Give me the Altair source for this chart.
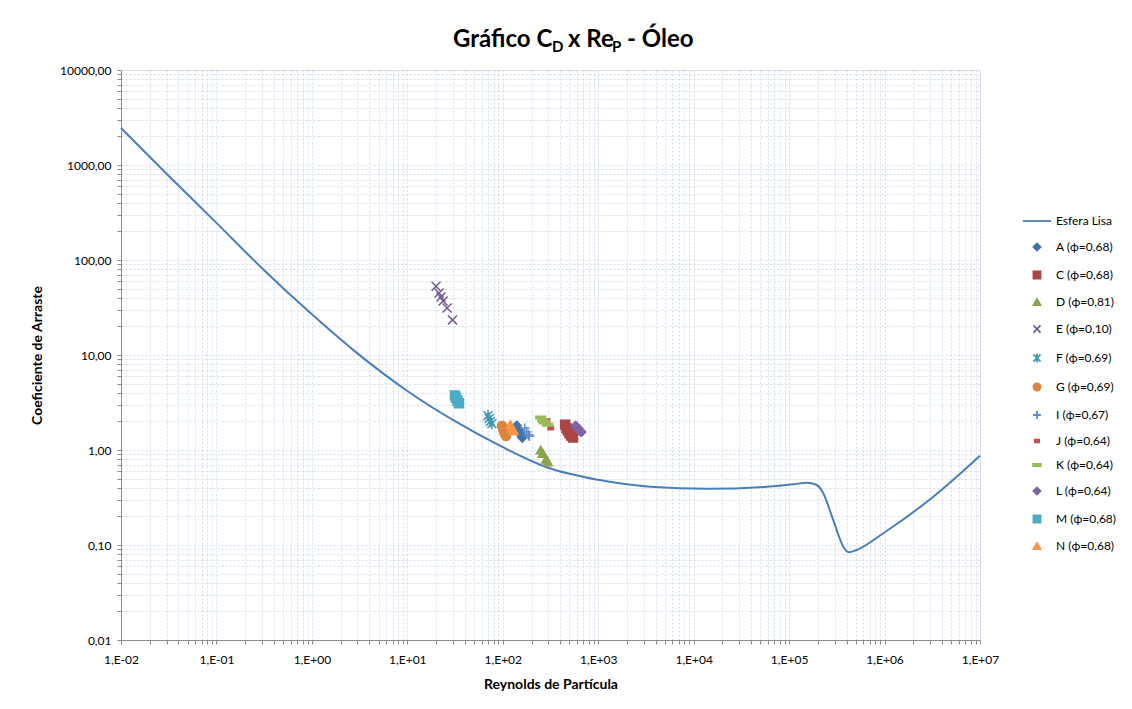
import altair as alt
import pandas as pd

# ---- Esfera Lisa curve ----
curve_re = [0.01, 0.03, 0.1, 0.3, 1.0, 3.0, 10.0, 30.0, 100, 300, 1000, 3490,
            13700, 58200, 110000, 153000, 195000, 228000, 290000, 370000, 418000,
            510000, 970000, 3240000, 10000000]
curve_cd = [2450, 810, 246, 82, 26.8, 10.4, 4.18, 2.07, 1.07, 0.65, 0.485, 0.41,
            0.39, 0.41, 0.435, 0.453, 0.428, 0.35, 0.183, 0.096, 0.0838,
            0.0886, 0.133, 0.322, 0.87]

# ---- experimental series ----
series_names = ["A (ϕ=0,68)", "C (ϕ=0,68)", "D (ϕ=0,81)", "E (ϕ=0,10)", "F (ϕ=0,69)",
                "G (ϕ=0,69)", "I (ϕ=0,67)", "J (ϕ=0,64)", "K (ϕ=0,64)", "L (ϕ=0,64)",
                "M (ϕ=0,68)", "N (ϕ=0,68)"]
A_re = [140, 148, 155, 160]
A_cd = [1.8, 1.6, 1.45, 1.35]
C_re = [450, 465, 480, 500, 520, 545]
C_cd = [1.85, 1.7, 1.6, 1.5, 1.42, 1.35]
D_re = [250, 262, 285, 295]
D_cd = [1.0, 0.92, 0.8, 0.75]
E_re = [20.0, 21.5, 22.5, 23.7, 26.1, 29.7]
E_cd = [53, 45, 40.8, 37, 31.2, 23.4]
F_re = [70, 72, 74, 77]
F_cd = [2.3, 2.15, 2.0, 1.9]
G_re = [98, 101, 104, 108]
G_cd = [1.8, 1.65, 1.5, 1.4]
I_re = [170, 178, 185, 190]
I_cd = [1.7, 1.55, 1.45, 1.4]
J_re = [290, 318]
J_cd = [2.05, 1.7]
K_re = [250, 262, 272, 295]
K_cd = [2.2, 2.05, 1.95, 1.85]
L_re = [580, 610, 640, 665]
L_cd = [1.8, 1.7, 1.6, 1.55]
M_re = [31.5, 32.3, 33.5, 34.8]
M_cd = [3.75, 3.55, 3.3, 3.1]
N_re = [120, 125, 130]
N_cd = [1.85, 1.7, 1.6]

series_re = [A_re, C_re, D_re, E_re, F_re, G_re, I_re, J_re, K_re, L_re, M_re, N_re]
series_cd = [A_cd, C_cd, D_cd, E_cd, F_cd, G_cd, I_cd, J_cd, K_cd, L_cd, M_cd, N_cd]

line_name = "Esfera Lisa"
line_color = "#4A7EBB"
series_colors = ["#4572A7", "#AA4643", "#89A54E", "#71588F", "#4198AF", "#DB843D",
                 "#5B8BCB", "#C8504D", "#9BBB59", "#8064A2", "#4BACC6", "#F79646"]
X_PATH = "M-1,-1L1,1M-1,1L1,-1"
AST_PATH = "M-1,-1L1,1M-1,1L1,-1M0,-1.3L0,1.3"
PLUS_PATH = "M-1.1,0L1.1,0M0,-1.1L0,1.1"
J_PATH = "M-0.6,-0.35L0.6,-0.35L0.6,0.35L-0.6,0.35Z"
K_PATH = "M-1.1,-0.3L1.1,-0.3L1.1,0.3L-1.1,0.3Z"
LINE_PATH = "M-4,0L4,0"
series_shapes = ["diamond", "square", "triangle-up", X_PATH, AST_PATH, "circle",
                 PLUS_PATH, J_PATH, K_PATH, "diamond", "square", "triangle-up"]
filled_flags = [True, True, True, False, False, True, False, True, True, True, True, True]

rows = []
for name, res, cds in zip(series_names, series_re, series_cd):
    for r, c in zip(res, cds):
        rows.append({"serie": name, "Re": r, "Cd": c})
df = pd.DataFrame(rows)
curve_df = pd.DataFrame({"Re": curve_re, "Cd": curve_cd})

domain = [line_name] + series_names
stroke_range = [line_color] + series_colors
fill_range = ["transparent"] + [c if f else "transparent" for c, f in zip(series_colors, filled_flags)]
shape_range = [LINE_PATH] + series_shapes

# ---- axes ----
x_ticks = []
for e in range(-2, 7):
    for m in range(1, 10):
        x_ticks.append(float(f"{m}e{e}"))
x_ticks.append(1e7)
y_ticks = []
for e in range(-2, 4):
    for m in range(1, 10):
        y_ticks.append(float(f"{m}e{e}"))
y_ticks.append(1e4)

is_dec = "abs(log(datum.value)/LN10 - round(log(datum.value)/LN10)) < 0.001"
x_label = ("(" + is_dec + ") ? ('1,E' + (round(log(datum.value)/LN10) < 0 ? '-' : '+') + "
           "(abs(round(log(datum.value)/LN10)) < 10 ? '0' : '') + abs(round(log(datum.value)/LN10))) : ''")
y_label = "(" + is_dec + ") ? replace(format(datum.value, '.2f'), '.', ',') : ''"

FONT = "Lato"
GRID = "#D3DDEC"
AXC = "#8C8C8C"

xaxis = alt.Axis(values=x_ticks, labelExpr=x_label, grid=True, gridColor=GRID, gridDash=[2, 2],
                 domainColor=AXC, tickColor=AXC, tickSize=4, labelFont=FONT, labelFontSize=12,
                 labelColor="#000000", labelPadding=10, labelOverlap=False, labelFlush=False,
                 title="Reynolds de Partícula", titleFont=FONT, titleFontSize=14,
                 titleFontWeight="bold", titleColor="#000000", titlePadding=12)
yaxis = alt.Axis(values=y_ticks, labelExpr=y_label, grid=True, gridColor=GRID, gridDash=[2, 2],
                 domainColor=AXC, tickColor=AXC, tickSize=4, labelFont=FONT, labelFontSize=12,
                 labelColor="#000000", labelPadding=6, labelOverlap=False, labelFlush=False,
                 title="Coeficiente de Arraste", titleFont=FONT, titleFontSize=14,
                 titleFontWeight="bold", titleColor="#000000", titlePadding=15)
xscale = alt.Scale(type="log", domain=[0.01, 1e7], nice=False)
yscale = alt.Scale(type="log", domain=[0.01, 1e4], nice=False)

legend = alt.Legend(title=None, orient="none", legendX=910, legendY=145, labelFont=FONT,
                    labelFontSize=12, labelColor="#000000", symbolSize=50, symbolStrokeWidth=1.8,
                    rowPadding=12, labelOffset=13, padding=0)

line = alt.Chart(curve_df).mark_line(color=line_color, strokeWidth=2, interpolate="monotone").encode(
    x=alt.X("Re:Q", scale=xscale, axis=xaxis),
    y=alt.Y("Cd:Q", scale=yscale, axis=yaxis),
)

points = alt.Chart(df).mark_point(opacity=1, strokeWidth=1.5, size=80).encode(
    x=alt.X("Re:Q", scale=xscale, axis=xaxis),
    y=alt.Y("Cd:Q", scale=yscale, axis=yaxis),
    shape=alt.Shape("serie:N", scale=alt.Scale(domain=domain, range=shape_range), legend=legend),
    fill=alt.Fill("serie:N", scale=alt.Scale(domain=domain, range=fill_range), legend=legend),
    stroke=alt.Stroke("serie:N", scale=alt.Scale(domain=domain, range=stroke_range), legend=legend),
)

# ---- title with subscripts ----
title_parts = ["Gráfico C", "D", "x Re", "P", "- Óleo"]
title_x = [332, 431, 447, 491, 506]
title_y = [-23, -18, -23, -18, -23]
title_size = [24, 15, 24, 15, 24]
dummy = pd.DataFrame({"k": [0]})
title_layers = []
for t, tx, ty, ts in zip(title_parts, title_x, title_y, title_size):
    title_layers.append(
        alt.Chart(dummy).mark_text(font=FONT, fontSize=ts, fontWeight="bold", align="left",
                                   baseline="alphabetic", color="#000000").encode(
            x=alt.value(tx), y=alt.value(ty), text=alt.value(t))
    )

chart = alt.layer(line, points, *title_layers).properties(
    width=859, height=570,
    autosize=alt.AutoSizeParams(type="none"),
    padding={"left": 113, "top": 62, "right": 140, "bottom": 55},
).configure_view(stroke=None).configure(background="white")

chart.save("out.html", embed_options={"renderer": "svg", "actions": False})
